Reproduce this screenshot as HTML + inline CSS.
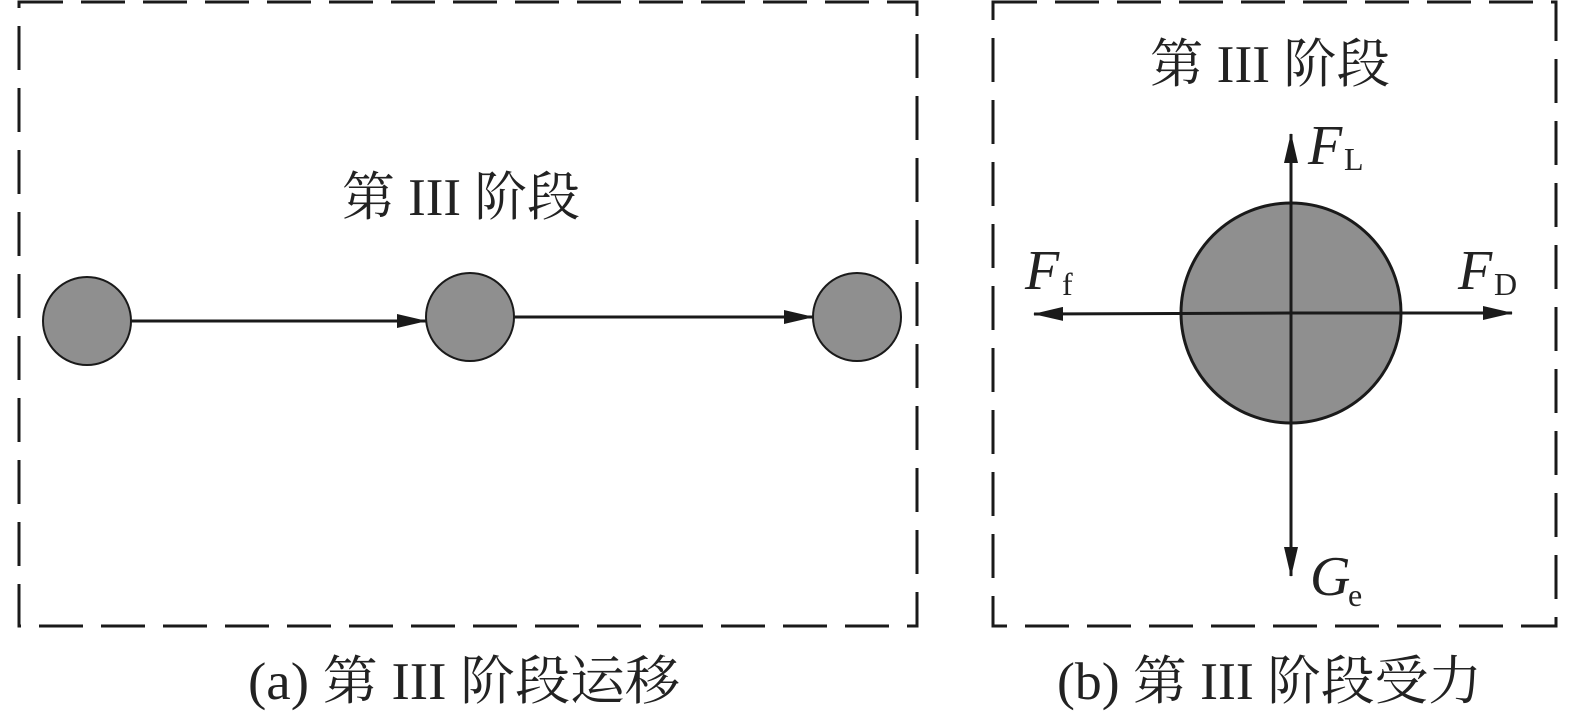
<!DOCTYPE html>
<html><head><meta charset="utf-8"><style>
body{margin:0;background:#fff;width:1575px;height:713px;overflow:hidden}
svg{display:block}
.t{font-family:"Liberation Serif","Noto Serif CJK SC",serif;fill:#222}
</style></head><body>
<svg width="1575" height="713" viewBox="0 0 1575 713">
<defs>
<marker id="b" viewBox="0 0 30 14" markerWidth="30" markerHeight="14" refX="29" refY="7" orient="auto" markerUnits="userSpaceOnUse"><path d="M0,0 L30,7 L0,14 L0,7 Z" fill="#1a1a1a"/></marker>
</defs>
<g fill="none" stroke="#1a1a1a" stroke-width="3" stroke-dasharray="44 18">
<rect x="19" y="2" width="898" height="624"/>
<rect x="993" y="2" width="563" height="624"/>
</g>
<g fill="#8f8f8f" stroke="#1a1a1a" stroke-width="2">
<circle cx="87" cy="321" r="44"/>
<circle cx="470" cy="317" r="44"/>
<circle cx="857" cy="317" r="44"/>
<circle cx="1291" cy="313" r="110" stroke-width="3"/>
</g>
<g stroke="#1a1a1a" stroke-width="3">
<line x1="131" y1="321" x2="426" y2="321" marker-end="url(#b)"/>
<line x1="514" y1="317" x2="813" y2="317" marker-end="url(#b)"/>
<line x1="1291" y1="313" x2="1291" y2="134" marker-end="url(#b)"/>
<line x1="1291" y1="313" x2="1291" y2="576" marker-end="url(#b)"/>
<line x1="1291" y1="313" x2="1034" y2="314" marker-end="url(#b)"/>
<line x1="1291" y1="313" x2="1512" y2="313" marker-end="url(#b)"/>
</g>
<text class="t" x="342" y="215" font-size="53" textLength="238" lengthAdjust="spacingAndGlyphs">第 III 阶段</text>
<text class="t" x="1150" y="82" font-size="53" textLength="240" lengthAdjust="spacingAndGlyphs">第 III 阶段</text>
<text class="t" x="1308" y="164" font-size="56" font-style="italic">F</text><text class="t" x="1344" y="170" font-size="32">L</text>
<text class="t" x="1025" y="289" font-size="56" font-style="italic">F</text><text class="t" x="1062" y="295" font-size="32">f</text>
<text class="t" x="1458" y="289" font-size="56" font-style="italic">F</text><text class="t" x="1494" y="295" font-size="32">D</text>
<text class="t" x="1310" y="595" font-size="56" font-style="italic">G</text><text class="t" x="1348" y="606" font-size="32">e</text>
<text class="t" x="248" y="699" font-size="53" textLength="432" lengthAdjust="spacingAndGlyphs">(a) 第 III 阶段运移</text>
<text class="t" x="1057" y="699" font-size="53" textLength="425" lengthAdjust="spacingAndGlyphs">(b) 第 III 阶段受力</text>
</svg>
</body></html>
